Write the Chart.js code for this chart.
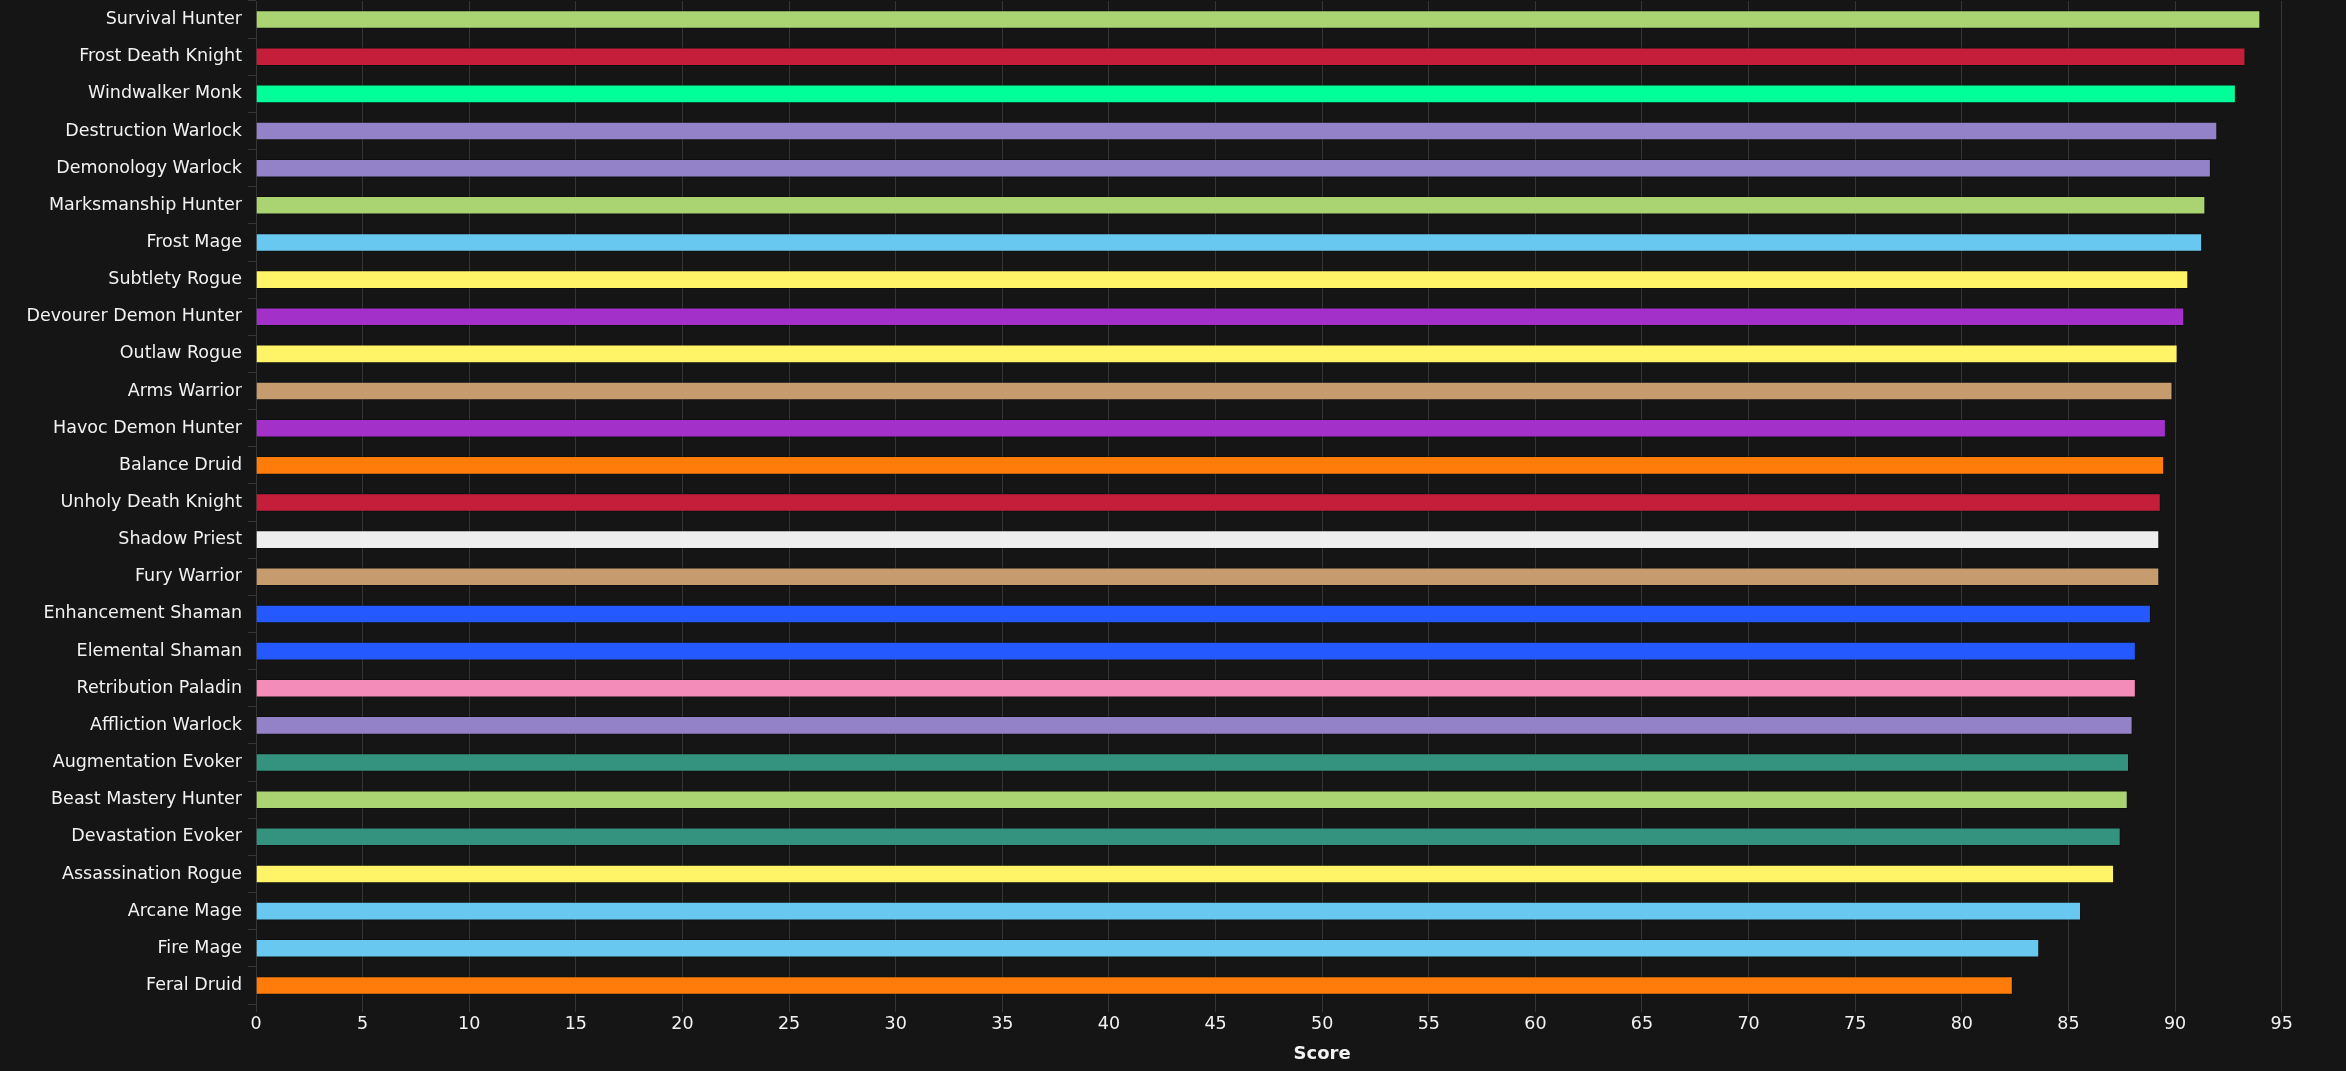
<!DOCTYPE html>
<html>
<head>
<meta charset="utf-8">
<script src="https://cdn.jsdelivr.net/npm/chart.js@4/dist/chart.umd.min.js"></script>
<style>
html,body{margin:0;padding:0;background:#151515;overflow:hidden;}
#wrap{width:2407px;height:1071px;}
</style>
</head>
<body>
<div id="wrap"><canvas id="scoreChart" width="2407" height="1071"></canvas></div>
<script>
const specs = [
  "Survival Hunter", "Frost Death Knight", "Windwalker Monk", "Destruction Warlock",
  "Demonology Warlock", "Marksmanship Hunter", "Frost Mage", "Subtlety Rogue",
  "Devourer Demon Hunter", "Outlaw Rogue", "Arms Warrior", "Havoc Demon Hunter",
  "Balance Druid", "Unholy Death Knight", "Shadow Priest", "Fury Warrior",
  "Enhancement Shaman", "Elemental Shaman", "Retribution Paladin", "Affliction Warlock",
  "Augmentation Evoker", "Beast Mastery Hunter", "Devastation Evoker", "Assassination Rogue",
  "Arcane Mage", "Fire Mage", "Feral Druid"
];

const scores = [
  94.0, 93.3, 92.85, 91.98,
  91.68, 91.42, 91.27, 90.62,
  90.43, 90.12, 89.88, 89.57,
  89.49, 89.33, 89.26, 89.26,
  88.87, 88.16, 88.16, 88.01,
  87.84, 87.78, 87.45, 87.14,
  85.59, 83.63, 82.39
];

const barColors = [
  "#aad372", "#c41e3a", "#00ff98", "#9482c9",
  "#9482c9", "#aad372", "#68c8f0", "#fff468",
  "#a330c9", "#fff468", "#c69b6d", "#a330c9",
  "#ff7c0a", "#c41e3a", "#eeeeee", "#c69b6d",
  "#2459ff", "#2459ff", "#f48cba", "#9482c9",
  "#33937f", "#aad372", "#33937f", "#fff468",
  "#68c8f0", "#68c8f0", "#ff7c0a"
];

const xTicks = [0, 5, 10, 15, 20, 25, 30, 35, 40, 45, 50, 55, 60, 65, 70, 75, 80, 85, 90, 95, 100];

const font = "'DejaVu Sans', sans-serif";
const gridColor = "rgba(255,255,255,0.14)";

const chart = new Chart(document.getElementById("scoreChart"), {
  type: "bar",
  data: {
    labels: specs,
    datasets: [{
      label: "Score",
      data: scores,
      backgroundColor: barColors,
      borderColor: "rgba(0,0,0,0.3)",
      borderWidth: 1,
      categoryPercentage: 1,
      barPercentage: 0.5
    }]
  },
  options: {
    indexAxis: "y",
    responsive: false,
    animation: false,
    devicePixelRatio: 1,
    layout: { padding: { top: 1, left: 0, bottom: 0 } },
    plugins: {
      legend: { display: false },
      tooltip: { enabled: false }
    },
    scales: {
      x: {
        min: 0,
        max: 100,
        afterBuildTicks: s => { s.ticks = xTicks.map(v => ({ value: v })); },
        afterFit: s => { s.height = 67; },
        grid: { color: gridColor, tickLength: 8 },
        border: { display: false },
        ticks: { color: "#f2f2f2", font: { family: font, size: 17.5 }, padding: 2, maxRotation: 0 },
        title: {
          display: true,
          text: "Score",
          color: "#f2f2f2",
          font: { family: font, size: 18, weight: "bold" },
          padding: { top: 0, bottom: 6 }
        }
      },
      y: {
        afterFit: s => { s.width = 256; s.paddingTop = 0; s.paddingBottom = 0; },
        grid: { display: true, drawOnChartArea: false, color: gridColor, tickLength: 8 },
        border: { display: false },
        ticks: { color: "#f2f2f2", font: { family: font, size: 17.5 }, padding: 6, autoSkip: false }
      }
    }
  }
});
</script>
</body>
</html>
